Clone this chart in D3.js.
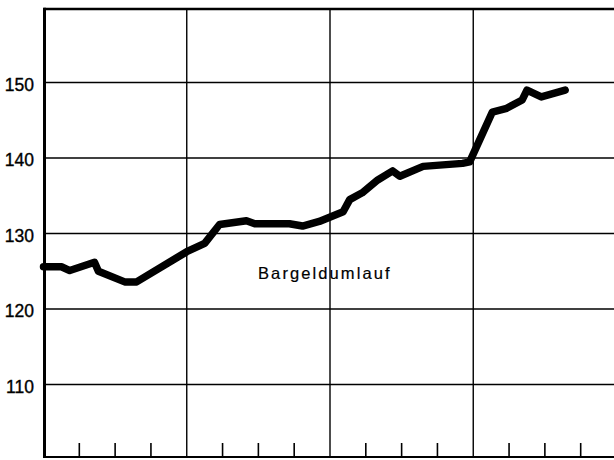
<!DOCTYPE html>
<html>
<head>
<meta charset="utf-8">
<script src="https://cdn.jsdelivr.net/npm/d3@7"></script>
<style>
  html, body { margin: 0; padding: 0; background: #fff; }
  svg { display: block; }
</style>
</head>
<body>
<svg id="chart" width="614" height="460"></svg>
<script>
// Month offsets (from start of first year) and values
const months = [0, 1.5, 2.2, 4.27, 4.6, 6.8, 7.8, 12, 13.5, 14.75, 17, 17.7, 20.6, 21.7, 23.1, 25.1, 25.65, 26.7, 28, 29.25, 29.85, 31.8, 35.1, 35.7, 37.6, 38.8, 40.1, 40.5, 41.7, 43.7];
const values = [125.6, 125.6, 125.1, 126.2, 125.0, 123.6, 123.6, 127.6, 128.7, 131.2, 131.7, 131.3, 131.3, 131.0, 131.6, 132.9, 134.5, 135.4, 137.1, 138.3, 137.6, 138.9, 139.3, 139.5, 146.1, 146.6, 147.7, 149.0, 148.1, 149.0];
const yTicks = [110, 120, 130, 140, 150];
const yearBounds = [12, 24, 36];
const quarterTicks = [3, 6, 9, 15, 18, 21, 27, 30, 33, 39, 42, 45];
const seriesLabel = "Bargeldumlauf";

const svg = d3.select("#chart");
const x = d3.scaleLinear().domain([0, 48]).range([43.5, 616.5]);
const y = d3.scaleLinear().domain([100.4, 159.75]).range([457, 9]);

const [x0] = x.range();
const yBottom = y(y.domain()[0]);
const yTop = y(y.domain()[1]);

// horizontal gridlines
svg.append("g").selectAll("line").data(yTicks).join("line")
  .attr("x1", x0).attr("x2", 614)
  .attr("y1", d => y(d)).attr("y2", d => y(d))
  .attr("stroke", "#000").attr("stroke-width", 1.5);

// vertical year lines
svg.append("g").selectAll("line").data(yearBounds).join("line")
  .attr("x1", d => x(d)).attr("x2", d => x(d))
  .attr("y1", yTop).attr("y2", yBottom)
  .attr("stroke", "#000").attr("stroke-width", 1.4);

// quarter ticks at bottom
svg.append("g").selectAll("line").data(quarterTicks).join("line")
  .attr("x1", d => x(d)).attr("x2", d => x(d))
  .attr("y1", yBottom - 14).attr("y2", yBottom)
  .attr("stroke", "#000").attr("stroke-width", 1.6);

// frame: left, top, bottom
svg.append("line").attr("x1", x0 + 1).attr("x2", x0 + 1).attr("y1", yTop - 1.2).attr("y2", yBottom + 1)
  .attr("stroke", "#000").attr("stroke-width", 3);
svg.append("line").attr("x1", x0).attr("x2", 614).attr("y1", yTop).attr("y2", yTop)
  .attr("stroke", "#000").attr("stroke-width", 2.5);
svg.append("line").attr("x1", x0).attr("x2", 614).attr("y1", yBottom).attr("y2", yBottom)
  .attr("stroke", "#000").attr("stroke-width", 2.2);

// y tick labels
svg.append("g").selectAll("text").data(yTicks).join("text")
  .attr("x", 34).attr("y", d => y(d) + 8)
  .attr("text-anchor", "end")
  .attr("font-family", "Liberation Sans, Arial, Helvetica, sans-serif")
  .attr("font-size", 17.5)
  .attr("fill", "#000")
  .attr("stroke", "#000").attr("stroke-width", 0.35)
  .text(d => d);

// data line
const line = d3.line().x((d, i) => x(months[i])).y(d => y(d));
svg.append("path").datum(values)
  .attr("d", line)
  .attr("fill", "none")
  .attr("stroke", "#000")
  .attr("stroke-width", 7.5)
  .attr("stroke-linejoin", "round")
  .attr("stroke-linecap", "round");

// series label
svg.append("text")
  .attr("x", 258).attr("y", 278.5)
  .attr("font-family", "Liberation Sans, Arial, Helvetica, sans-serif")
  .attr("font-size", 16.5)
  .attr("letter-spacing", 2.1)
  .attr("fill", "#000")
  .attr("stroke", "#000").attr("stroke-width", 0.2)
  .text(seriesLabel);
</script>
</body>
</html>
